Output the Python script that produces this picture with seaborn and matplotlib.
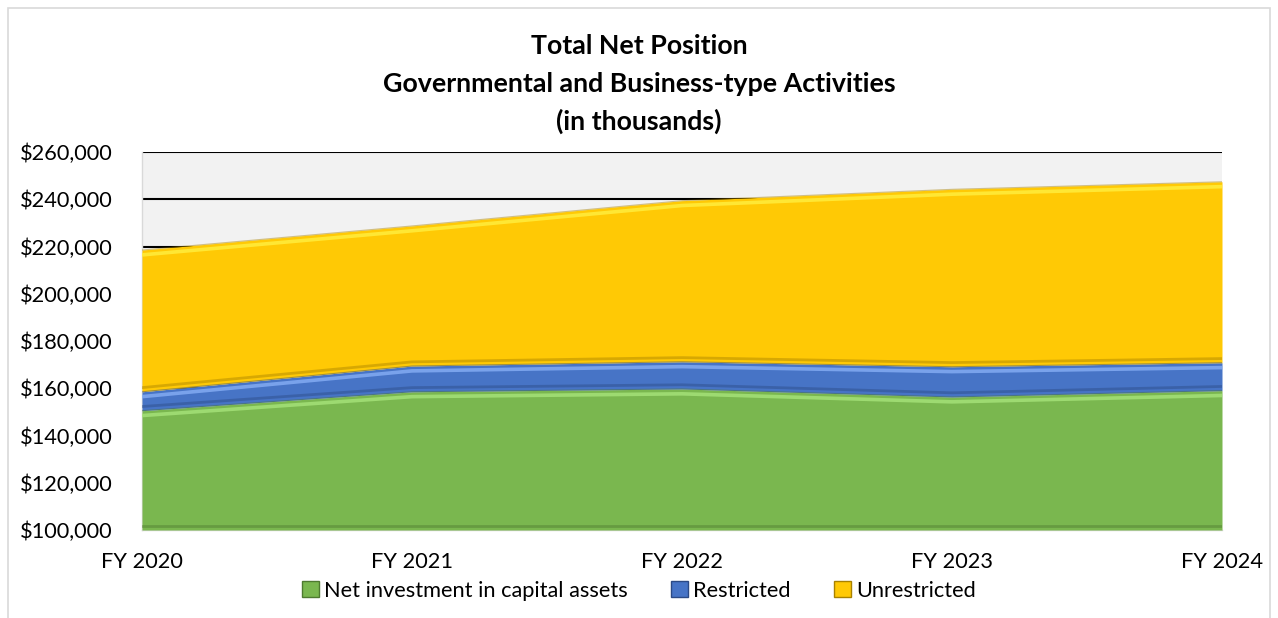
import matplotlib
matplotlib.use("Agg")
import matplotlib.pyplot as plt
import matplotlib.transforms as mtransforms
from matplotlib.patches import Rectangle, Patch
from matplotlib.ticker import FuncFormatter
import seaborn as sns
import pandas as pd
import numpy as np

years = ["FY 2020", "FY 2021", "FY 2022", "FY 2023", "FY 2024"]
net_investment = [150500, 158500, 159700, 156300, 159000]
restricted = [8000, 10900, 11500, 12800, 11800]
unrestricted = [60000, 59300, 68200, 75100, 76600]
series_names = ["Net investment in capital assets", "Restricted", "Unrestricted"]
colors = ["#7AB74F", "#4774C6", "#FFC905"]
light = ["#A6E37A", "#86AEF5", "#FFEF40"]
dark = ["#4E7A30", "#2C4A85", "#A88100"]

df = pd.DataFrame({"year": years, series_names[0]: net_investment,
                   series_names[1]: restricted, series_names[2]: unrestricted})
df["x"] = np.arange(len(years))

sns.set_theme(style="white")
plt.rcParams["font.family"] = ["Lato", "DejaVu Sans"]
plt.rcParams["text.color"] = "black"

fig = plt.figure(figsize=(12.78, 6.18), dpi=100)
ax = fig.add_axes([142/1278, 1-530/618, (1222-142)/1278, (530-152)/618])
ax.set_facecolor("#F2F2F2")

ymin = 100000
base = np.full(len(years), ymin, dtype=float)
cum = np.zeros(len(years))
for i, name in enumerate(series_names):
    lower = cum.copy() if i > 0 else base
    cum = cum + df[name].values
    ax.fill_between(df["x"], lower, cum, color=colors[i], zorder=3, linewidth=0)
    # bevel highlight & shadow
    down = ax.transData + mtransforms.ScaledTranslation(0, -3.5/72, fig.dpi_scale_trans)
    up = ax.transData + mtransforms.ScaledTranslation(0, 3.0/72, fig.dpi_scale_trans)
    tmp = pd.DataFrame({"x": df["x"], "top": cum, "bot": lower})
    sns.lineplot(data=tmp, x="x", y="top", ax=ax, color=light[i], linewidth=2.6,
                 alpha=0.8, transform=down, zorder=4, legend=False)
    sns.lineplot(data=tmp, x="x", y="bot", ax=ax, color=dark[i], linewidth=2.0,
                 alpha=0.45, transform=up, zorder=4, legend=False)
    sns.lineplot(data=tmp, x="x", y="top", ax=ax, color=dark[i], linewidth=0.8,
                 alpha=0.45, zorder=5, legend=False)

ax.set_xlim(0, len(years) - 1)
ax.set_ylim(100000, 260000)
ax.set_yticks(np.arange(100000, 260001, 20000))
ax.yaxis.set_major_formatter(FuncFormatter(lambda v, p: f"${v:,.0f}"))
ax.set_xticks(df["x"])
ax.set_xticklabels(years)
ax.grid(axis="y", color="black", linewidth=1.5, zorder=1)
ax.set_axisbelow(True)
ax.tick_params(axis="both", length=0, labelsize=15.7, colors="black")
ax.tick_params(axis="y", pad=21)
ax.tick_params(axis="x", pad=16)
for s in ["top", "right"]:
    ax.spines[s].set_visible(False)
for s in ["left", "bottom"]:
    ax.spines[s].set_color("#D9D9D9")
    ax.spines[s].set_linewidth(1)
ax.set_xlabel("")
ax.set_ylabel("")

for ty, txt in [(46, "Total Net Position"),
                (84, "Governmental and Business-type Activities"),
                (121, "(in thousands)")]:
    fig.text(0.5, 1-ty/618, txt, ha="center", va="center",
             fontsize=19.3, fontweight="bold", color="black")

handles = [Patch(facecolor=colors[i], edgecolor=dark[i], linewidth=1) for i in range(3)]
leg = fig.legend(handles, series_names, loc="center", bbox_to_anchor=(0.5, 1-591/618),
                 ncol=3, frameon=False, fontsize=15.7, handlelength=0.75, handleheight=0.75,
                 handletextpad=0.25, columnspacing=2.0)
for t in leg.get_texts():
    t.set_color("black")

fig.patches.append(Rectangle((8/1278, -0.1), (1270-8)/1278, 1.1 - 8/618,
                             transform=fig.transFigure, fill=False,
                             edgecolor="#D9D9D9", linewidth=1.2))

fig.savefig("out.png", dpi=100)
